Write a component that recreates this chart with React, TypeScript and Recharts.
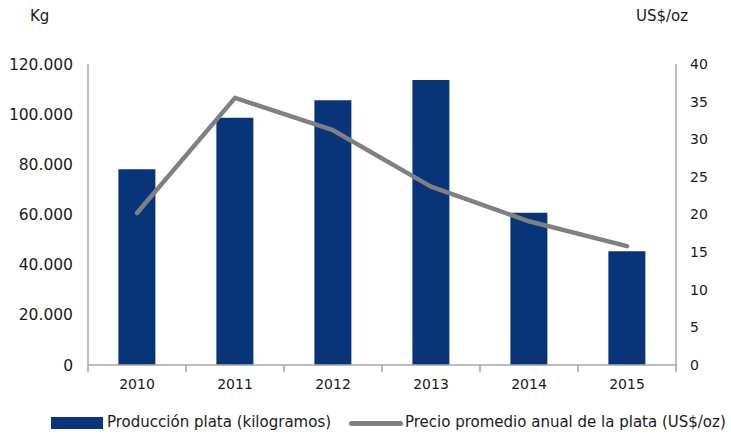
import React from 'react';
import { ComposedChart, Bar, Line, XAxis, YAxis } from 'recharts';

const years = ['2010', '2011', '2012', '2013', '2014', '2015'];
const produccionKg = [78000, 98600, 105500, 113600, 60700, 45300];
const precioUsdOz = [20.2, 35.5, 31.2, 23.7, 19.1, 15.8];
const leftTicks = [0, 20000, 40000, 60000, 80000, 100000, 120000];
const rightTicks = [0, 5, 10, 15, 20, 25, 30, 35, 40];

const data = years.map((year, i) => ({
  year,
  produccion: produccionKg[i],
  precio: precioUsdOz[i],
}));

const FONT = '"DejaVu Sans", sans-serif';
const TEXT = '#1a1a1a';
const AXIS = '#a6a6a6';
const BAR = '#08357a';
const LINE = '#808080';

const fmtKg = (v: number) => (v === 0 ? '0' : v.toLocaleString('de-DE'));

// year label plus the little tick marks between categories (Excel style)
const YearTick = (props: any) => {
  const { x, y, payload, index, width, visibleTicksCount } = props;
  const step = width && visibleTicksCount ? width / visibleTicksCount : 98;
  const half = step / 2;
  return (
    <g>
      <line x1={x - half} x2={x - half} y1={y - 8} y2={y - 1} stroke={AXIS} strokeWidth={1.5} />
      {index === years.length - 1 && (
        <line x1={x + half} x2={x + half} y1={y - 8} y2={y - 1} stroke={AXIS} strokeWidth={1.5} />
      )}
      <text x={x} y={y + 16} textAnchor="middle" fontSize={14} fontFamily={FONT} fill={TEXT}>
        {payload.value}
      </text>
    </g>
  );
};

export default function App() {
  return (
    <div style={{ position: 'absolute', left: 0, top: 0, width: 731, height: 436, background: '#fff', fontFamily: FONT, color: TEXT }}>
      <div style={{ position: 'absolute', left: 30, top: 7, fontSize: 15 }}>Kg</div>
      <div style={{ position: 'absolute', left: 636, top: 7, fontSize: 15 }}>US$/oz</div>

      <ComposedChart
        width={731}
        height={436}
        data={data}
        margin={{ top: 64, right: 0, left: 0, bottom: 41 }}
        barCategoryGap="31%"
      >
        <XAxis
          dataKey="year"
          height={30}
          axisLine={{ stroke: AXIS, strokeWidth: 1.5 }}
          tickLine={false}
          tick={<YearTick />}
          interval={0}
        />
        <YAxis
          yAxisId="left"
          width={88}
          domain={[0, 120000]}
          ticks={leftTicks}
          tickFormatter={fmtKg}
          axisLine={{ stroke: AXIS, strokeWidth: 1.5 }}
          tickLine={false}
          tickMargin={9}
          tick={{ fontSize: 15.5, fontFamily: FONT, fill: TEXT }}
        />
        <YAxis
          yAxisId="right"
          orientation="right"
          width={55}
          domain={[0, 40]}
          ticks={rightTicks}
          axisLine={{ stroke: AXIS, strokeWidth: 1.5 }}
          tickLine={false}
          tickMargin={8}
          tick={{ fontSize: 14, fontFamily: FONT, fill: TEXT, textAnchor: 'start' }}
        />
        <Bar yAxisId="left" dataKey="produccion" fill={BAR} isAnimationActive={false} />
        <Line
          yAxisId="right"
          dataKey="precio"
          type="linear"
          stroke={LINE}
          strokeWidth={4.5}
          strokeLinecap="round"
          strokeLinejoin="round"
          dot={false}
          activeDot={false}
          isAnimationActive={false}
        />
      </ComposedChart>

      <div style={{ position: 'absolute', left: 51, top: 417, width: 52, height: 12, background: BAR }} />
      <div style={{ position: 'absolute', left: 107, top: 413, fontSize: 15, lineHeight: '18px', whiteSpace: 'nowrap' }}>
        Producción plata (kilogramos)
      </div>
      <div style={{ position: 'absolute', left: 349, top: 421, width: 54, height: 5, borderRadius: 3, background: LINE }} />
      <div style={{ position: 'absolute', left: 405, top: 413, fontSize: 15, lineHeight: '18px', whiteSpace: 'nowrap' }}>
        Precio promedio anual de la plata (US$/oz)
      </div>
    </div>
  );
}
